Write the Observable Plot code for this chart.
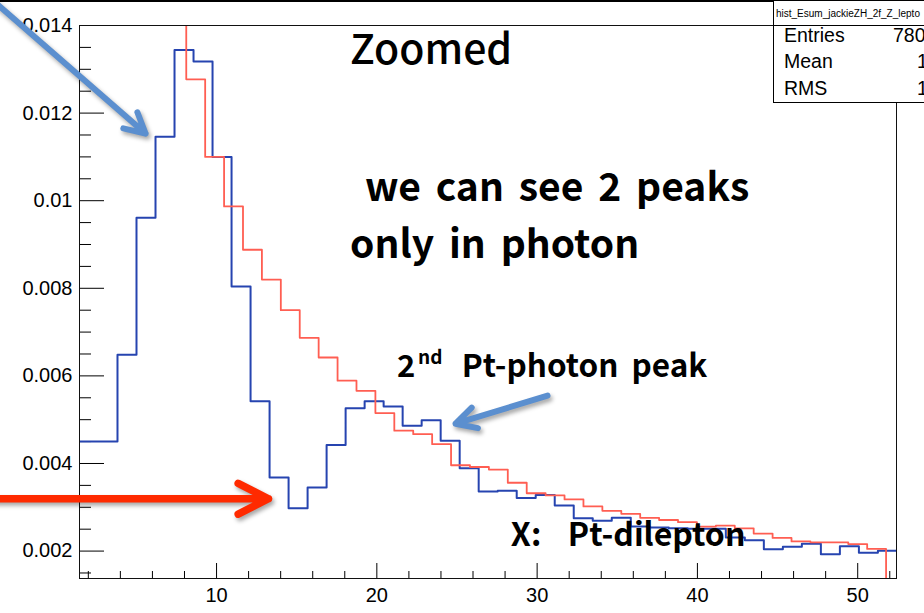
<!DOCTYPE html>
<html>
<head>
<meta charset="utf-8">
<script src="https://cdn.jsdelivr.net/npm/d3@7"></script>
<script src="https://cdn.jsdelivr.net/npm/@observablehq/plot@0.6"></script>
<style>
  body { margin: 0; background: #fff; }
  #chart { position: relative; width: 924px; height: 613px; overflow: hidden; }
  #topline { position: absolute; left: 0; top: 0; width: 924px; height: 1.5px; background: #000; }
  .rootbox { position: absolute; left: 773px; width: 170px; background: #fff; border: 1px solid #000; box-sizing: border-box;
             font-family: "Liberation Sans", Arial, sans-serif; color: #000; }
  #titlebox { top: 0; height: 26px; }
  #titlebox span { position: absolute; left: 2px; top: 7px; font-size: 10px; white-space: nowrap; }
  #statbox { top: 25px; height: 78px; }
  #statbox div { position: absolute; font-size: 19.5px; white-space: nowrap; line-height: 1; }
  g[aria-label="text"] text { word-spacing: 6px; }
</style>
</head>
<body>
<div id="chart"></div>
<script>
// Pt histograms (normalised), fixed-width bins as in the ROOT file
const blueStart = 1.448;     // lower edge of the first drawn bin
const blueWidth = 1.186;
const blueValues = [
  0.0045, 0.0045, 0.00648, 0.00961, 0.01146, 0.01344, 0.01318, 0.0110, 0.00804, 0.00542,
  0.00368, 0.00298, 0.00345, 0.00442, 0.00526, 0.00542, 0.00530, 0.00486, 0.00499, 0.00452,
  0.00389, 0.00336, 0.00338, 0.00321, 0.00328, 0.00304, 0.00275, 0.00269, 0.00276, 0.00256,
  0.00254, 0.00252, 0.00251, 0.00251, 0.00231, 0.00225, 0.00204, 0.00210, 0.00217, 0.00193,
  0.00211, 0.00196, 0.00201
];

const redStart = 6.93;
const redWidth = 1.18;
// first bin runs off the top of the frame; the histogram ends after the last filled bin
const redValues = [
  0.0146, 0.01277, 0.0110, 0.00987, 0.00888, 0.0082, 0.0075, 0.00687, 0.00642, 0.00589,
  0.00566, 0.00515, 0.00475, 0.00467, 0.00444, 0.00396, 0.00392, 0.00386, 0.00356, 0.00332,
  0.00327, 0.00318, 0.00302, 0.00292, 0.00285, 0.00276, 0.00271, 0.00266, 0.00256, 0.00258,
  0.00252, 0.00240, 0.00230, 0.00222, 0.00220, 0.00220, 0.00216, 0.00205, 0
];

// axis ticks
const xTicks = [10, 20, 30, 40, 50];
const xMinorTicks = d3.range(2, 53, 2).filter(v => v % 10 !== 0);
const yTicks = [0.002, 0.004, 0.006, 0.008, 0.01, 0.012, 0.014];
const yMinorTicks = d3.range(3, 28).map(k => k * 0.0005).filter(v => Math.abs(v / 0.002 - Math.round(v / 0.002)) > 1e-6);

// slide annotations (data units)
const bigNotes = [
  {text: " we can see 2 peaks", x: 18.33, y: 0.010002},
  {text: "only in photon", x: 18.33, y: 0.008693}
];
const peakNote = [{text: "Pt-photon peak", x: 25.30, y: 0.005966}];
const axisNote = [{text: "X:  Pt-dilepton", x: 28.36, y: 0.002121}];
const blueArrows = [
  {x1: -4.10, y1: 0.014617, x2: 5.57, y2: 0.011533},
  {x1: 30.65, y1: 0.005548, x2: 24.91, y2: 0.004908}
];
const redArrow = [{x1: -4.10, y1: 0.003195, x2: 13.24, y2: 0.003195}];

function histPoints(start, width, values) {
  const pts = values.map((v, i) => ({x: start + i * width, y: v}));
  pts.push({x: start + values.length * width, y: values[values.length - 1]});
  return pts;
}

const noteFont = "'Noto Sans CJK JP', 'Noto Sans', sans-serif";

const plot = Plot.plot({
  width: 924,
  height: 613,
  marginLeft: 79,
  marginRight: 28,
  marginTop: 25,
  marginBottom: 35,
  x: {domain: [1.45, 52.42], label: null},
  y: {domain: [0.001374, 0.014], label: null},
  style: {fontFamily: "'Liberation Sans', Arial, sans-serif", fontSize: "20px", color: "#000", background: "#fff"},
  marks: [
    Plot.axisY(yMinorTicks, {tickSize: -12, tickFormat: () => "", label: null}),
    Plot.axisY(yTicks, {tickSize: -25, tickPadding: 32, tickFormat: d => String(+d.toFixed(3)), label: null}),
    Plot.axisX(xMinorTicks, {tickSize: -7, tickFormat: () => "", label: null}),
    Plot.axisX(xTicks, {tickSize: -15, tickPadding: 24, label: null}),
    Plot.line(histPoints(blueStart, blueWidth, blueValues),
      {x: "x", y: "y", curve: "step-after", stroke: "#2644b0", strokeWidth: 2, clip: true}),
    Plot.line(histPoints(redStart, redWidth, redValues),
      {x: "x", y: "y", curve: "step-after", stroke: "#ff5e52", strokeWidth: 1.8, clip: true}),
    Plot.frame({stroke: "#111"}),
    Plot.text(["Zoomed"], {x: 18.33, y: 0.013125, text: d => d, textAnchor: "start", lineAnchor: "bottom",
      fontFamily: noteFont, fontSize: 41, fontWeight: 500, fill: "#000"}),
    Plot.text(bigNotes, {x: "x", y: "y", text: "text", textAnchor: "start", lineAnchor: "bottom",
      fontFamily: noteFont, fontSize: 39, fontWeight: 700, fill: "#000"}),
    Plot.text(["2"], {x: 21.26, y: 0.005966, text: d => d, textAnchor: "start", lineAnchor: "bottom",
      fontFamily: noteFont, fontSize: 31, fontWeight: 700, fill: "#000"}),
    Plot.text(["nd"], {x: 22.57, y: 0.006279, text: d => d, textAnchor: "start", lineAnchor: "bottom",
      fontFamily: noteFont, fontSize: 19, fontWeight: 700, fill: "#000"}),
    Plot.text(peakNote, {x: "x", y: "y", text: "text", textAnchor: "start", lineAnchor: "bottom",
      fontFamily: noteFont, fontSize: 31.5, fontWeight: 700, fill: "#000"}),
    Plot.text(axisNote, {x: "x", y: "y", text: "text", textAnchor: "start", lineAnchor: "bottom",
      fontFamily: noteFont, fontSize: 32, fontWeight: 700, fill: "#000"}),
    Plot.arrow(blueArrows, {x1: "x1", y1: "y1", x2: "x2", y2: "y2", stroke: "#5b8fcf", strokeWidth: 6,
      headLength: 5.7, headAngle: 56, strokeLinecap: "round", strokeLinejoin: "round"}),
    Plot.arrow(redArrow, {x1: "x1", y1: "y1", x2: "x2", y2: "y2", stroke: "#ff2a00", strokeWidth: 7.5,
      headLength: 6.8, headAngle: 54, strokeLinecap: "round", strokeLinejoin: "round"})
  ]
});

plot.style.position = "absolute";
plot.style.left = "0";
plot.style.top = "0";
plot.querySelectorAll('g[aria-label="arrow"]').forEach(g => {
  g.style.filter = "drop-shadow(2px 3px 2px rgba(0,0,0,0.35))";
});

const chart = document.getElementById("chart");
chart.appendChild(plot);

// ROOT title and statistics boxes
const topLine = document.createElement("div");
topLine.id = "topline";
chart.appendChild(topLine);

const titleBox = document.createElement("div");
titleBox.className = "rootbox";
titleBox.id = "titlebox";
titleBox.innerHTML = "<span>hist_Esum_jackieZH_2f_Z_lepto</span>";
chart.appendChild(titleBox);

const statRows = [["Entries", "780", 0], ["Mean", "19", 26], ["RMS", "13", 53]];
const statBox = document.createElement("div");
statBox.className = "rootbox";
statBox.id = "statbox";
for (const [name, value, t] of statRows) {
  const a = document.createElement("div");
  a.style.left = "10px"; a.style.top = t + "px"; a.textContent = name;
  const b = document.createElement("div");
  b.style.left = (value === "780" ? 119 : 143) + "px"; b.style.top = t + "px"; b.textContent = value;
  statBox.appendChild(a); statBox.appendChild(b);
}
chart.appendChild(statBox);
</script>
</body>
</html>
